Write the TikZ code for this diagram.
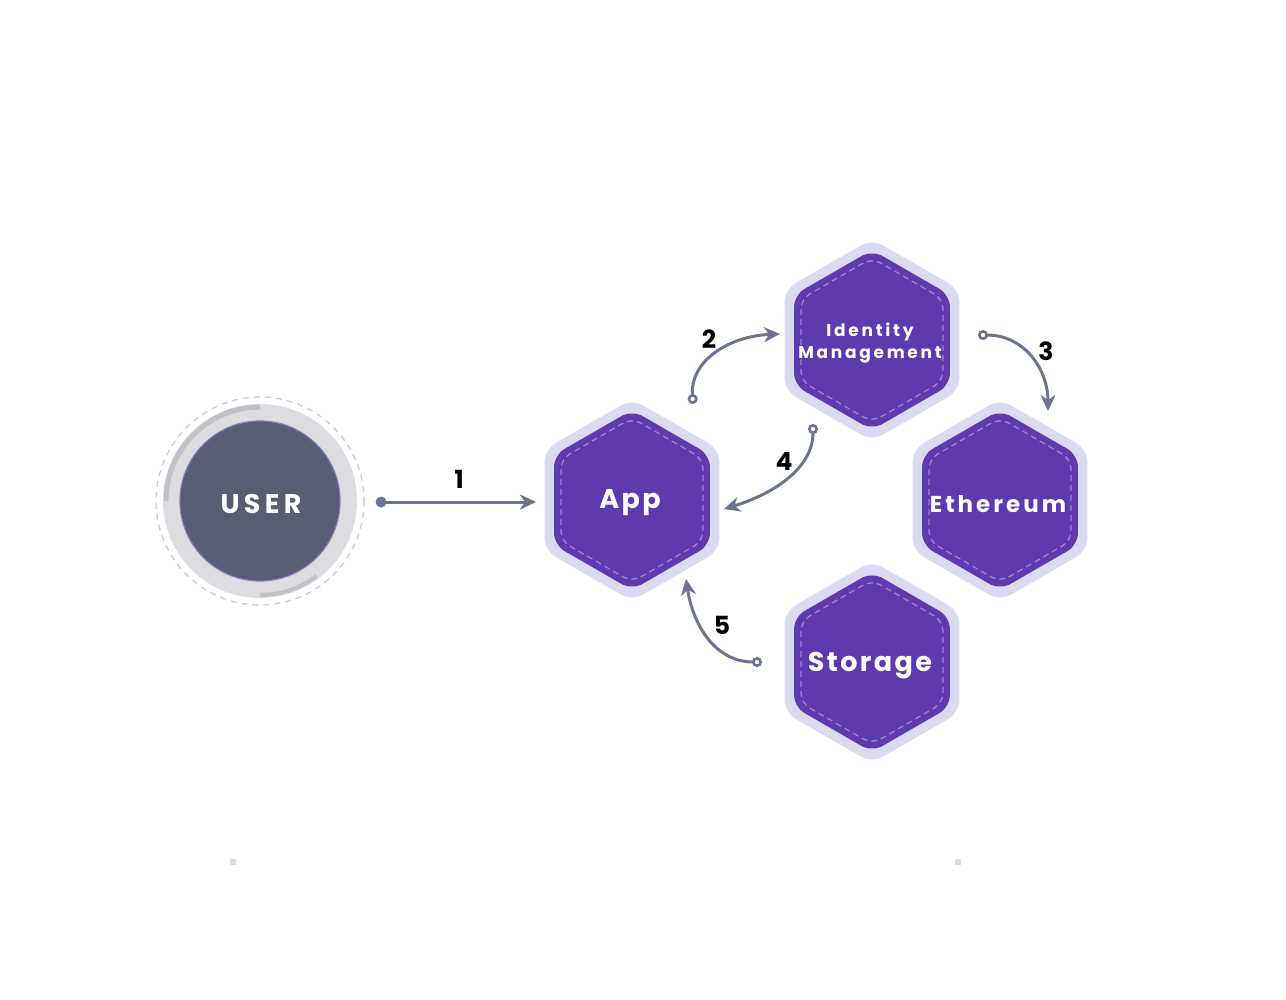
\documentclass[tikz,border=0pt]{standalone}
\usepackage{fontspec}
\setmainfont{Poppins}
\newfontfamily\lblfont[LetterSpace=9]{Poppins Bold}
\newfontfamily\lblwide[LetterSpace=13]{Poppins Bold}
\newfontfamily\lblwider[LetterSpace=16]{Poppins Bold}
\newfontfamily\numfont{Poppins Bold}
\usetikzlibrary{arrows.meta,calc}
\definecolor{hexout}{HTML}{DCDAF0}
\definecolor{hexin}{HTML}{5E3AAE}
\definecolor{hexdash}{HTML}{9A85CF}
\definecolor{usrfill}{HTML}{585D73}
\definecolor{usrring}{HTML}{DDDCE0}
\definecolor{usrarc}{HTML}{C2C1C8}
\definecolor{usrdash}{HTML}{C8C8CC}
\definecolor{conn}{HTML}{6E7490}
\tikzset{
  outerhex/.style={fill=hexout,rounded corners=13pt},
  innerhex/.style={fill=hexin,rounded corners=12pt},
  dashhex/.style={draw=hexdash,line width=1.3pt,dash pattern=on 6pt off 4pt,rounded corners=10pt},
  hexlabel/.style={text=white,align=center,inner sep=0pt},
  connector/.style={draw=conn,line width=3pt},
  endtip/.style={-{Stealth[length=16pt,width=15pt,inset=5pt]}},
  bothtip/.style={{Circle[open,length=10pt,width=10pt,line width=2.6pt]}-{Stealth[length=16pt,width=15pt,inset=5pt]}},
  numlabel/.style={font=\numfont\fontsize{25}{25}\selectfont,text=black}
}
\newcommand\drawhex[1]{%
  \path[outerhex] ($(#1)+(90:101)$) -- ($(#1)+(30:101)$) -- ($(#1)+(-30:101)$) -- ($(#1)+(-90:101)$) -- ($(#1)+(-150:101)$) -- ($(#1)+(150:101)$) -- cycle;
  \path[innerhex] ($(#1)+(90:90)$) -- ($(#1)+(30:90)$) -- ($(#1)+(-30:90)$) -- ($(#1)+(-90:90)$) -- ($(#1)+(-150:90)$) -- ($(#1)+(150:90)$) -- cycle;
  \path[dashhex] ($(#1)+(90:82)$) -- ($(#1)+(30:82)$) -- ($(#1)+(-30:82)$) -- ($(#1)+(-90:82)$) -- ($(#1)+(-150:82)$) -- ($(#1)+(150:82)$) -- cycle;
}
\begin{document}
\begin{tikzpicture}[x=1pt,y=-1pt]
\useasboundingbox[fill=white] (0,0) rectangle (1286,1000);
% centers
\coordinate (cApp) at (632,500);
\coordinate (cId) at (872,340);
\coordinate (cEth) at (1000,500);
\coordinate (cSto) at (872,662);
\coordinate (cUsr) at (260,501);
% user
\draw[usrdash,line width=1.2pt,dash pattern=on 6pt off 5pt] (cUsr) circle[radius=104];
\fill[usrring] (cUsr) circle[radius=97];
\draw[usrarc,line width=5pt] ($(cUsr)+(90:-94)$) arc[start angle=-90,end angle=-180,radius=94];
\draw[usrarc,line width=4pt] ($(cUsr)+(90:94)$) arc[start angle=90,end angle=53,radius=94];
\filldraw[fill=usrfill,draw=hexdash!70!usrfill,line width=1.2pt] (cUsr) circle[radius=80];
\node[hexlabel,font=\lblwider\fontsize{27}{27}\selectfont] (usr) at (261,504) {USER};
% hexagons
\drawhex{cApp}
\drawhex{cId}
\drawhex{cEth}
\drawhex{cSto}
\node[hexlabel,font=\lblfont\fontsize{27}{27}\selectfont] (app) at (630,503) {App};
\node[hexlabel,font=\lblwider\fontsize{17}{22}\selectfont] (idm) at (870,343) {Identity\\Management};
\node[hexlabel,font=\lblwide\fontsize{23}{23}\selectfont] (eth) at (998,504) {Ethereum};
\node[hexlabel,font=\lblfont\fontsize{27}{27}\selectfont] (sto) at (870,666) {Storage};
% small squares
\fill[usrring] (230,859) rectangle (236,865);
\fill[usrring] (955,859) rectangle (961,865);
% connector endpoints
\coordinate (s1) at (381,502); \coordinate (e1) at (536,502);
\coordinate (s2) at (693,404); \coordinate (e2) at (780,334);
\coordinate (s3) at (978,335); \coordinate (e3) at (1048,411);
\coordinate (s4) at (813,424); \coordinate (e4) at (724,509);
\coordinate (s5) at (762,662); \coordinate (e5) at (686,579);
% connectors
\fill[conn] (s1) circle[radius=5.5];
\draw[connector,endtip] (s1) -- (e1);
\draw[connector,bothtip] (s2) .. controls (690,360) and (730,336) .. (e2);
\draw[connector,bothtip] (s3) .. controls (1025,335) and (1048,370) .. (e3);
\draw[connector,bothtip] (s4) .. controls (813,470) and (770,495) .. (e4);
\draw[connector,bothtip] (s5) .. controls (715,662) and (693,625) .. (e5);
% labels
\node[numlabel] (n1) at (459,479) {1};
\node[numlabel] (n2) at (709,339) {2};
\node[numlabel] (n3) at (1046,351) {3};
\node[numlabel] (n4) at (784,461) {4};
\node[numlabel] (n5) at (722,625) {5};
\end{tikzpicture}
\end{document}
